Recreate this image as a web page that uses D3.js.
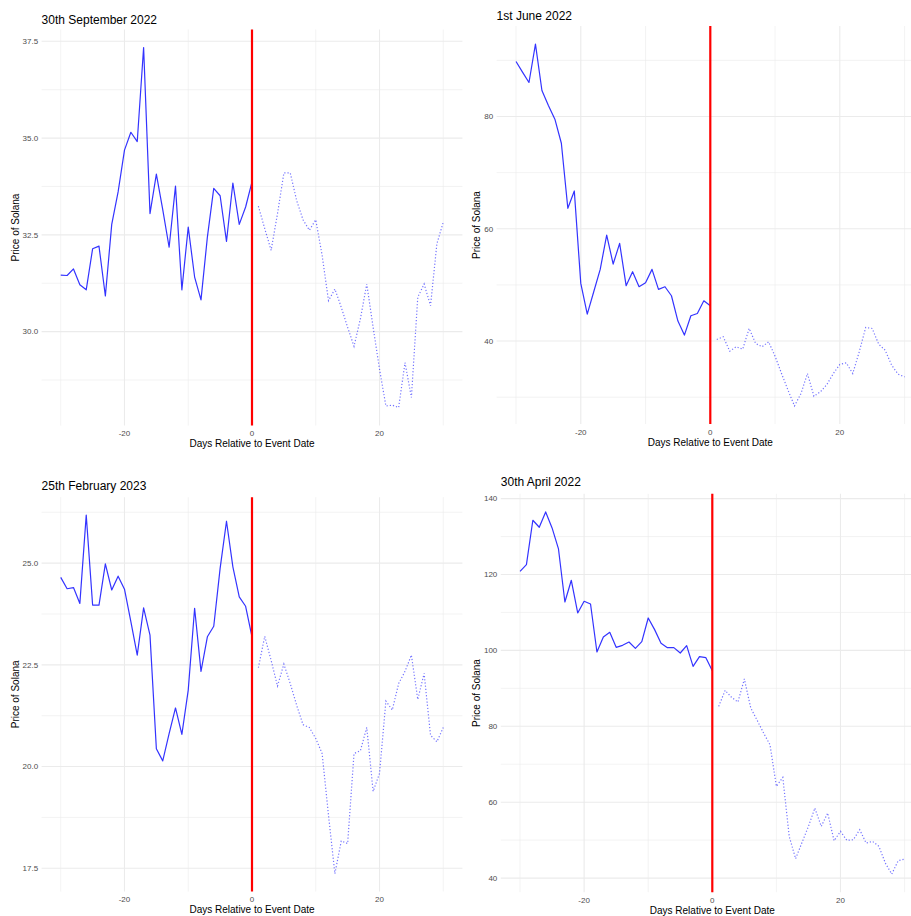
<!DOCTYPE html>
<html>
<head>
<meta charset="utf-8">
<script src="https://cdn.jsdelivr.net/npm/d3@7"></script>
<style>
  html, body { margin: 0; padding: 0; background: #fff; }
  svg { display: block; font-family: "Liberation Sans", Arial, Helvetica, sans-serif; }
</style>
</head>
<body>
<svg id="chart" width="911" height="916"></svg>
<script>
// Days relative to each event (event day = 0)
const days = [
  -30,-29,-28,-27,-26,-25,-24,-23,-22,-21,-20,-19,-18,-17,-16,-15,-14,-13,-12,-11,
  -10,-9,-8,-7,-6,-5,-4,-3,-2,-1,0,1,2,3,4,5,6,7,8,9,10,
  11,12,13,14,15,16,17,18,19,20,21,22,23,24,25,26,27,28,29,30
];

// Solana closing price around each event
const priceSep2022 = [
  31.46,31.45,31.62,31.21,31.08,32.14,32.21,30.92,32.77,33.61,34.69,35.15,34.91,37.34,33.05,34.07,
  33.15,32.18,33.76,31.08,32.70,31.41,30.82,32.44,33.70,33.51,32.33,33.84,32.77,33.22,33.87,
  33.24,32.66,32.10,33.05,34.10,34.10,33.39,32.89,32.62,32.89,31.97,30.80,31.10,30.63,30.11,
  29.62,30.33,31.23,30.11,29.03,28.08,28.10,28.04,29.20,28.30,30.89,31.23,30.67,32.27,32.83
];
const priceJun2022 = [
  89.81,87.91,86.06,92.90,84.64,81.96,79.52,75.24,63.65,66.74,50.27,44.80,48.79,52.77,58.89,53.72,
  57.41,49.86,52.35,49.68,50.39,52.77,49.20,49.68,48.07,43.56,41.06,44.51,44.92,47.18,46.29,
  40.29,40.76,38.20,38.98,38.56,42.25,39.57,38.98,39.87,37.31,34.22,31.25,28.45,30.65,34.22,
  30.18,30.95,32.26,34.22,35.83,36.12,34.22,38.09,42.43,42.25,39.45,38.38,35.71,34.10,33.63
];
const priceFeb2023 = [
  24.65,24.37,24.40,24.01,26.18,23.97,23.97,24.98,24.34,24.68,24.36,23.56,22.74,23.90,23.23,20.44,
  20.14,20.81,21.44,20.79,21.88,23.89,22.34,23.19,23.45,24.87,26.03,24.91,24.17,23.94,23.19,
  22.43,23.20,22.61,21.98,22.52,22.04,21.51,21.03,20.96,20.69,20.32,18.80,17.37,18.17,18.11,
  20.32,20.39,20.96,19.39,19.83,21.61,21.39,22.04,22.34,22.74,21.65,22.29,20.77,20.61,20.96
];
const priceApr2022 = [
  120.84,122.60,134.29,132.44,136.49,132.27,126.73,112.76,118.47,109.86,112.93,112.23,99.58,103.53,
  104.76,100.81,101.33,102.21,100.54,102.30,108.54,105.47,101.86,100.72,100.72,99.31,101.25,95.80,
  98.35,98.08,94.66,
  85.25,89.47,87.63,86.40,92.46,84.82,81.57,78.22,75.15,64.17,66.54,50.99,45.10,49.40,53.62,
  58.45,53.62,57.14,49.84,52.30,49.93,50.11,52.74,49.23,49.67,48.35,43.95,41.05,44.57,45.01
];

// Panel titles and axis breaks
const titles = ["30th September 2022", "1st June 2022", "25th February 2023", "30th April 2022"];
const xMajor = [-20, 0, 20];
const xMinor = [-30, -10, 10, 30];
const yMajorSep = [30.0, 32.5, 35.0, 37.5];
const yMinorSep = [28.75, 31.25, 33.75, 36.25];
const yMajorJun = [40, 60, 80];
const yMinorJun = [30, 50, 70, 90];
const yMajorFeb = [17.5, 20.0, 22.5, 25.0];
const yMinorFeb = [18.75, 21.25, 23.75, 26.25];
const yMajorApr = [40, 60, 80, 100, 120, 140];
const yMinorApr = [50, 70, 90, 110, 130];

const panels = [
  { title: titles[0], price: priceSep2022, yMajor: yMajorSep, yMinor: yMinorSep, fmt: d => d.toFixed(1),
    box: { left: 41.6, right: 462.4, top: 29.5, bottom: 425.5 }, titleY: 23.5, yTitleX: 18.5 },
  { title: titles[1], price: priceJun2022, yMajor: yMajorJun, yMinor: yMinorJun, fmt: d => String(d),
    box: { left: 496.6, right: 924, top: 26, bottom: 424 }, titleY: 19.5, yTitleX: 479.5 },
  { title: titles[2], price: priceFeb2023, yMajor: yMajorFeb, yMinor: yMinorFeb, fmt: d => d.toFixed(1),
    box: { left: 41.6, right: 462.4, top: 497.2, bottom: 891.5 }, titleY: 490, yTitleX: 18.5 },
  { title: titles[3], price: priceApr2022, yMajor: yMajorApr, yMinor: yMinorApr, fmt: d => String(d),
    box: { left: 500.8, right: 923.8, top: 493.8, bottom: 892.2 }, titleY: 486, yTitleX: 479.5 }
];

const svg = d3.select("#chart");
const gridColor = "#ebebeb";

// ggplot-style 5% expansion on each side of the data range
function expand(ext) {
  const pad = (ext[1] - ext[0]) * 0.05;
  return [ext[0] - pad, ext[1] + pad];
}

panels.forEach(p => {
  const b = p.box;
  const rows = days.map((d, i) => ({ day: d, price: p.price[i] }));
  const before = rows.filter(r => r.day <= 0);
  const after = rows.filter(r => r.day >= 1);

  const x = d3.scaleLinear().domain(expand(d3.extent(days))).range([b.left, b.right]);
  const y = d3.scaleLinear().domain(expand(d3.extent(p.price))).range([b.bottom, b.top]);

  const g = svg.append("g");

  // minor grid
  g.selectAll(".ymin").data(p.yMinor).join("line")
    .attr("x1", b.left).attr("x2", b.right)
    .attr("y1", d => y(d)).attr("y2", d => y(d))
    .attr("stroke", gridColor).attr("stroke-width", 0.6);
  g.selectAll(".xmin").data(xMinor).join("line")
    .attr("y1", b.top).attr("y2", b.bottom)
    .attr("x1", d => x(d)).attr("x2", d => x(d))
    .attr("stroke", gridColor).attr("stroke-width", 0.6);

  // major grid
  g.selectAll(".ymaj").data(p.yMajor).join("line")
    .attr("x1", b.left).attr("x2", b.right)
    .attr("y1", d => y(d)).attr("y2", d => y(d))
    .attr("stroke", gridColor).attr("stroke-width", 1.1);
  g.selectAll(".xmaj").data(xMajor).join("line")
    .attr("y1", b.top).attr("y2", b.bottom)
    .attr("x1", d => x(d)).attr("x2", d => x(d))
    .attr("stroke", gridColor).attr("stroke-width", 1.1);

  // tick labels
  g.selectAll(".ylab").data(p.yMajor).join("text")
    .attr("x", b.left - 3.5).attr("y", d => y(d)).attr("dy", "0.35em")
    .attr("text-anchor", "end").attr("font-size", 8).attr("fill", "#4d4d4d")
    .text(d => p.fmt(d));
  g.selectAll(".xlab").data(xMajor).join("text")
    .attr("x", d => x(d)).attr("y", b.bottom + 10.5)
    .attr("text-anchor", "middle").attr("font-size", 8).attr("fill", "#4d4d4d")
    .text(d => String(d));

  // price lines: solid before the event, dotted after
  const line = d3.line().x(d => x(d.day)).y(d => y(d.price));
  g.append("path").datum(before).attr("d", line)
    .attr("fill", "none").attr("stroke", "#0000ff").attr("stroke-opacity", 0.8)
    .attr("stroke-width", 1.2).attr("stroke-linejoin", "round");
  g.append("path").datum(after).attr("d", line)
    .attr("fill", "none").attr("stroke", "#0000ff").attr("stroke-opacity", 0.55)
    .attr("stroke-width", 1.2).attr("stroke-dasharray", "1.2,2");

  // event marker
  g.append("line")
    .attr("x1", x(0)).attr("x2", x(0)).attr("y1", b.top).attr("y2", b.bottom)
    .attr("stroke", "#ff0000").attr("stroke-width", 2.2);

  // titles
  g.append("text").attr("x", b.left).attr("y", p.titleY)
    .attr("font-size", 12).attr("fill", "#000").text(p.title);
  g.append("text").attr("x", (b.left + b.right) / 2).attr("y", b.bottom + 21.5)
    .attr("text-anchor", "middle").attr("font-size", 10).attr("fill", "#000")
    .text("Days Relative to Event Date");
  g.append("text")
    .attr("transform", `translate(${p.yTitleX},${(b.top + b.bottom) / 2}) rotate(-90)`)
    .attr("text-anchor", "middle").attr("font-size", 10).attr("fill", "#000")
    .text("Price of Solana");
});
</script>
</body>
</html>
